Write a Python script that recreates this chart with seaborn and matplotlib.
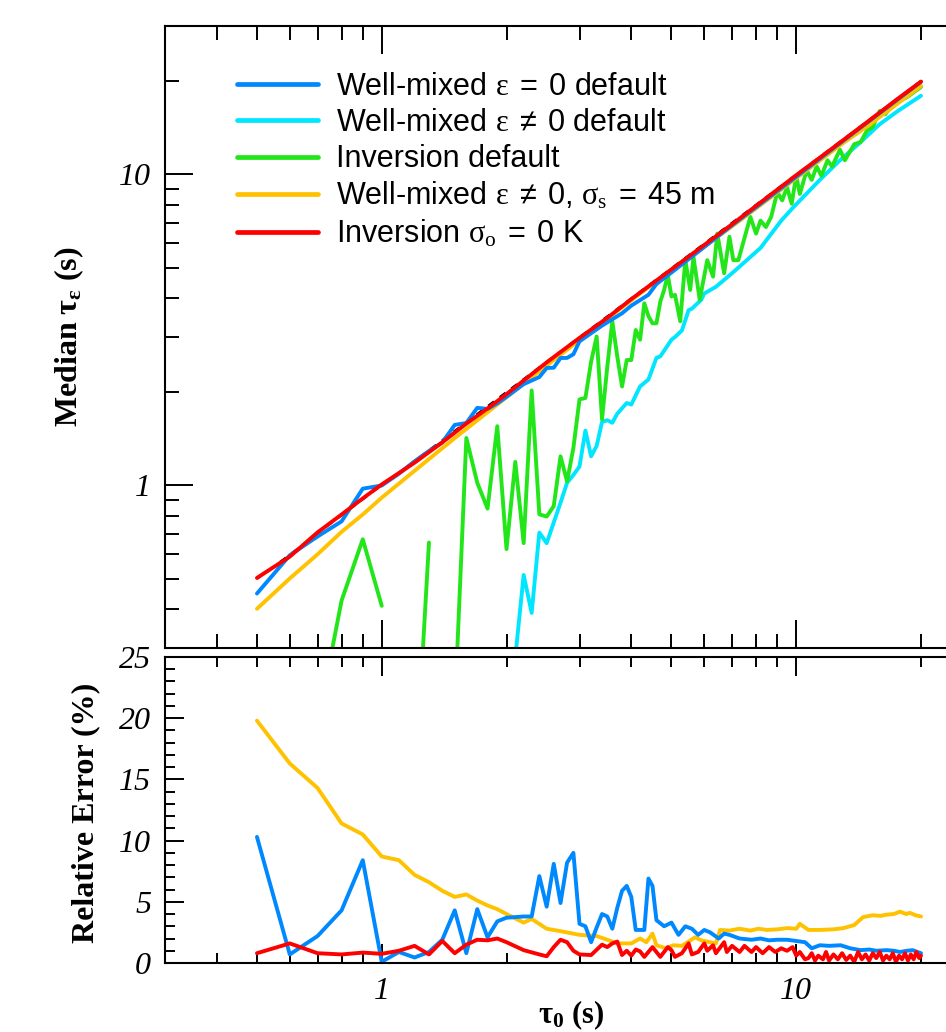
#!/usr/bin/env python3
"""Median tau_eps against tau_0 (log-log) with the relative error panel below."""

import matplotlib

matplotlib.use("Agg")
import matplotlib.pyplot as plt
import numpy as np
import pandas as pd
import seaborn as sns
from matplotlib.lines import Line2D
from matplotlib.ticker import FuncFormatter, LogLocator, MultipleLocator, NullFormatter

BLUE = "#0088FF"
CYAN = "#00E6FF"
GREEN = "#22E61A"
YELLOW = "#FFC200"
RED = "#FF0000"

LABELS = [
    r"Well-mixed $\varepsilon\;=\;0$ default",
    r"Well-mixed $\varepsilon\;\neq\;0$ default",
    "Inversion default",
    r"Well-mixed $\varepsilon\;\neq\;0$, $\sigma_{s}\;=\;45$ m",
    r"Inversion $\sigma_{o}\;=\;0$ K",
]

# ---- top panel: median tau_eps (s) ----
ONE_TO_ONE = [0.5, 20.0]

RED_TOP_X = [0.5, 0.6, 0.7, 0.8, 0.9, 1.0, 1.2, 1.4, 1.6, 1.8, 2.0, 2.5, 3.0, 3.5,
             4.0, 5.0, 6.0, 7.0, 8.0, 10.0, 12.0, 15.0, 17.5, 20.0]
RED_TOP_Y = [0.504, 0.59, 0.706, 0.806, 0.908, 1.007, 1.183, 1.375, 1.58, 1.767,
             1.966, 2.486, 2.98, 3.455, 3.97, 4.95, 5.93, 6.91, 7.92, 9.94, 11.91,
             14.9, 17.43, 19.88]

BLUE_TOP_X = [0.5, 0.6, 0.7, 0.8, 0.9, 1.0, 1.1, 1.2, 1.3, 1.4, 1.5, 1.6, 1.7, 1.8,
              1.9, 2.0, 2.2, 2.4, 2.5, 2.6, 2.7, 2.8, 2.9, 3.0, 3.4, 3.8, 4.0, 4.4,
              4.6, 5.0, 6.0, 7.0, 8.0, 10.0, 12.0, 15.0, 20.0]
BLUE_TOP_Y = [0.449, 0.596, 0.685, 0.766, 0.976, 0.999, 1.09, 1.195, 1.29, 1.374,
              1.565, 1.587, 1.775, 1.762, 1.835, 1.926, 2.116, 2.23, 2.385, 2.39,
              2.568, 2.57, 2.64, 2.905, 3.264, 3.576, 3.784, 4.10, 4.44, 4.835,
              5.84, 6.86, 7.84, 9.82, 11.83, 14.84, 19.84]

YELLOW_TOP_X = [0.5, 0.6, 0.7, 0.8, 0.9, 1.0, 1.2, 1.5, 2.0, 2.5, 3.0, 4.0, 5.0,
                7.0, 10.0, 13.0, 15.0, 20.0]
YELLOW_TOP_Y = [0.401, 0.502, 0.600, 0.709, 0.806, 0.913, 1.114, 1.419, 1.920,
                2.430, 2.931, 3.936, 4.930, 6.804, 9.72, 12.63, 14.42, 19.25]

CYAN_TOP_X = [2.1, 2.2, 2.3, 2.4, 2.5, 2.6, 2.7, 2.8, 2.9, 3.0, 3.1, 3.2, 3.3, 3.4,
              3.5, 3.6, 3.7, 3.8, 3.9, 4.0, 4.2, 4.4, 4.6, 4.7, 5.0, 5.1, 5.3, 5.5,
              5.6, 5.9, 6.0, 6.4, 7.0, 7.6, 8.2, 9.2, 9.85, 10.6, 11.4, 12.75, 14.3,
              15.9, 17.6, 20.0]
CYAN_TOP_Y = [0.28, 0.515, 0.389, 0.705, 0.652, 0.76, 0.88, 1.02, 1.08, 1.15, 1.50,
              1.24, 1.34, 1.60, 1.62, 1.59, 1.70, 1.77, 1.84, 1.82, 2.08, 2.19, 2.57,
              2.6, 2.94, 3.0, 3.15, 3.66, 3.7, 3.95, 4.14, 4.35, 4.81, 5.3, 5.8, 7.1,
              7.85, 8.68, 9.6, 11.1, 12.7, 14.5, 16.0, 17.9]

# NaN = no median (line broken)
GREEN_TOP_X = [0.7, 0.8, 0.9, 1.0, 1.1, 1.2, 1.3, 1.4, 1.5, 1.6, 1.7, 1.8, 1.9, 2.0,
               2.1, 2.2, 2.3, 2.4, 2.5, 2.6, 2.7, 2.8, 2.9, 3.0, 3.1, 3.2, 3.3, 3.4,
               3.5, 3.6, 3.7, 3.8, 3.9, 4.0, 4.1, 4.2, 4.3, 4.4, 4.5, 4.6, 4.7, 4.8,
               4.9, 5.0, 5.1, 5.25, 5.4, 5.55, 5.65, 5.85, 6.1, 6.3, 6.45, 6.7, 6.9,
               7.05, 7.25, 7.75, 8.0, 8.2, 8.45, 8.7, 9.0, 9.25, 9.5, 9.75, 10.0,
               10.2, 10.6, 10.9, 11.2, 11.5, 11.9, 12.2, 12.75, 13.1, 13.8, 14.3,
               14.8, 15.3, 15.9, 16.4, 17.1, 18.5, 20.0]
GREEN_TOP_Y = [0.17, 0.426, 0.671, 0.41, np.nan, 0.1, 0.655, np.nan, 0.19, 1.42,
               1.02, 0.842, 1.55, 0.624, 1.19, 0.652, 2.02, 0.807, 0.794, 0.858,
               1.24, 1.03, 1.32, 1.89, 1.91, 2.5, 3.01, 1.63, 2.4, 3.37, 2.6, 2.08,
               2.53, 2.53, 3.16, 2.94, 3.85, 3.5, 3.32, 3.32, 3.9, 4.25, 4.75, 4.05,
               4.1, 3.37, 5.3, 4.25, 5.43, 3.95, 5.3, 4.69, 6.45, 4.81, 6.3, 5.3,
               5.3, 7.3, 6.45, 7.1, 6.77, 7.3, 8.77, 8.25, 9.1, 8.05, 9.9, 8.65,
               10.3, 9.6, 10.6, 9.9, 11.1, 10.6, 12.0, 11.1, 12.5, 12.7, 13.8, 14.2,
               16.0, 15.6, 16.8, 17.7, 19.1]

# ---- bottom panel: relative error (%) ----
BLUE_ERR_X = [0.5, 0.6, 0.7, 0.8, 0.9, 1.0, 1.1, 1.2, 1.3, 1.4, 1.5, 1.6, 1.7, 1.8,
              1.9, 2.0, 2.1, 2.2, 2.3, 2.4, 2.5, 2.6, 2.7, 2.8, 2.9, 3.0, 3.1, 3.2,
              3.3, 3.4, 3.5, 3.6, 3.7, 3.8, 3.9, 4.0, 4.1, 4.2, 4.3, 4.4, 4.5, 4.6,
              4.8, 5.0, 5.2, 5.4, 5.6, 5.8, 6.0, 6.2, 6.5, 6.7, 6.9, 7.3, 7.8, 8.2,
              8.6, 9.0, 9.5, 10.0, 10.5, 10.9, 11.4, 12.0, 12.8, 13.5, 14.3, 15.0,
              15.6, 16.5, 17.2, 17.8, 18.5, 19.1, 19.6, 20.0]
BLUE_ERR_Y = [10.3, 0.7, 2.2, 4.3, 8.4, 0.1, 0.9, 0.45, 0.9, 1.9, 4.3, 0.8, 4.4,
              2.1, 3.4, 3.7, 3.75, 3.8, 3.8, 7.1, 4.6, 8.1, 4.9, 8.2, 9.0, 3.2, 3.0,
              1.7, 2.9, 4.0, 3.8, 2.8, 4.5, 5.9, 6.3, 5.4, 2.7, 2.7, 2.7, 6.9, 6.3,
              3.5, 3.0, 3.3, 2.3, 3.0, 2.8, 2.3, 2.7, 2.5, 2.0, 2.4, 2.3, 2.0, 1.9,
              2.0, 1.85, 1.9, 1.9, 1.8, 1.7, 1.2, 1.45, 1.4, 1.45, 1.2, 1.05, 1.1,
              1.0, 1.05, 1.0, 0.9, 1.0, 1.05, 0.9, 0.8]

YELLOW_ERR_X = [0.5, 0.6, 0.7, 0.8, 0.9, 1.0, 1.1, 1.2, 1.3, 1.4, 1.5, 1.6, 1.7,
                1.8, 1.9, 2.0, 2.2, 2.3, 2.5, 2.7, 3.0, 3.3, 3.5, 3.7, 4.0, 4.2,
                4.35, 4.5, 4.6, 4.85, 5.05, 5.3, 5.5, 5.7, 5.9, 6.2, 6.4, 6.55, 6.9,
                7.3, 7.75, 8.1, 8.5, 9.0, 9.5, 10.0, 10.2, 10.7, 11.4, 12.3, 13.0,
                13.8, 14.5, 15.3, 16.0, 16.5, 17.2, 17.8, 18.4, 18.8, 19.4, 20.0]
YELLOW_ERR_Y = [19.8, 16.3, 14.3, 11.4, 10.5, 8.7, 8.4, 7.2, 6.6, 5.9, 5.4, 5.6,
                5.1, 4.7, 4.4, 4.0, 3.3, 3.6, 2.8, 2.6, 2.3, 2.2, 1.9, 1.6, 1.6, 2.0,
                1.7, 2.4, 1.45, 1.2, 1.45, 1.4, 1.75, 2.1, 1.85, 1.7, 1.6, 2.7, 2.65,
                2.8, 2.65, 2.8, 2.7, 2.75, 2.85, 2.8, 3.2, 2.7, 2.7, 2.75, 2.85, 3.1,
                3.75, 3.9, 3.85, 3.95, 4.0, 4.2, 4.0, 4.1, 3.9, 3.8]

RED_ERR_X = [0.5, 0.6, 0.7, 0.8, 0.9, 1.0, 1.1, 1.2, 1.3, 1.4, 1.5, 1.6, 1.7, 1.8,
             1.9, 2.0, 2.2, 2.4, 2.5, 2.6, 2.7, 2.8, 2.9, 3.0, 3.2, 3.4, 3.5, 3.6,
             3.7, 3.8, 3.9, 4.0, 4.1, 4.2, 4.3, 4.5, 4.7, 4.9, 5.0, 5.1, 5.3, 5.5,
             5.6, 5.8, 6.0, 6.1, 6.3, 6.4, 6.7, 6.8, 7.0, 7.3, 7.5, 7.8, 8.0, 8.3,
             8.6, 8.9, 9.2, 9.5, 9.8, 10.0, 10.2, 10.5, 10.7, 10.9, 11.1, 11.3,
             11.6, 11.8, 12.0, 12.3, 12.6, 12.9, 13.2, 13.5, 13.8, 14.1, 14.4,
             14.7, 15.0, 15.3, 15.6, 15.9, 16.2, 16.5, 16.8, 17.1, 17.4, 17.7,
             18.0, 18.3, 18.6, 18.9, 19.2, 19.5, 19.8, 20.0]
RED_ERR_Y = [0.8, 1.6, 0.8, 0.7, 0.85, 0.75, 1.0, 1.4, 0.7, 1.8, 0.8, 1.5, 1.9,
             1.85, 2.0, 1.7, 1.05, 0.7, 0.55, 1.3, 1.9, 1.7, 1.0, 0.7, 0.65, 1.5,
             1.3, 1.6, 1.75, 0.65, 1.0, 0.6, 1.1, 0.95, 0.5, 1.3, 0.5, 1.3, 1.05,
             0.5, 0.8, 1.6, 0.7, 0.9, 1.6, 1.0, 1.45, 0.8, 1.7, 0.9, 1.4, 0.9, 1.4,
             0.9, 1.3, 0.8, 1.3, 0.9, 1.2, 1.0, 1.3, 0.6, 0.9, 0.3, 0.4, 0.8, 0.2,
             0.6, 0.3, 0.9, 0.2, 0.7, 0.3, 0.8, 0.25, 0.6, 0.1, 0.9, 0.3, 0.7, 0.2,
             0.8, 0.4, 0.9, 0.2, 0.6, 0.3, 0.8, 0.1, 0.6, 0.3, 0.8, 0.2, 0.7, 0.3,
             0.9, 0.4, 0.6]

W, H = 946, 1032
LW = 2.8


def line(ax, xs, ys, color, **kw):
    kw.setdefault("linewidth", LW)
    sns.lineplot(x=xs, y=ys, estimator=None, sort=False, color=color, ax=ax, **kw)


def log_x(ax):
    ax.set_xscale("log")
    ax.set_xlim(0.3, 30)
    ax.xaxis.set_major_locator(LogLocator(base=10, numticks=10))
    ax.xaxis.set_minor_locator(LogLocator(base=10, subs=np.arange(2, 10), numticks=10))
    ax.xaxis.set_major_formatter(FuncFormatter(lambda v, _: f"{v:g}"))
    ax.xaxis.set_minor_formatter(NullFormatter())


sns.set_style("ticks")
plt.rcParams.update({
    "font.family": ["Liberation Serif", "DejaVu Serif"],
    "mathtext.fontset": "custom",
    "mathtext.rm": "Liberation Sans",
    "mathtext.it": "Liberation Serif",
    "mathtext.bf": "Liberation Serif:bold",
    "text.color": "black",
    "axes.labelcolor": "black",
    "axes.linewidth": 1.5,
    "axes.edgecolor": "black",
    "xtick.direction": "in",
    "ytick.direction": "in",
    "xtick.top": True,
    "ytick.right": True,
    "xtick.color": "black",
    "ytick.color": "black",
})

fig = plt.figure(figsize=(W / 100, H / 100), dpi=100)
left, right = 165 / W, 994 / W
ax_top = fig.add_axes([left, 1 - 648 / H, right - left, (648 - 26) / H])
ax_bot = fig.add_axes([left, 1 - 963 / H, right - left, (963 - 657) / H])

# top panel
line(ax_top, ONE_TO_ONE, ONE_TO_ONE, "black", linestyle=(0, (4, 4)), linewidth=1.3)
line(ax_top, CYAN_TOP_X, CYAN_TOP_Y, CYAN)
green = pd.DataFrame({"x": GREEN_TOP_X, "y": GREEN_TOP_Y})
green["seg"] = green["y"].isna().cumsum()
green = green.dropna()
sns.lineplot(data=green, x="x", y="y", units="seg", estimator=None, sort=False,
             color=GREEN, linewidth=LW, ax=ax_top)
line(ax_top, YELLOW_TOP_X, YELLOW_TOP_Y, YELLOW)
line(ax_top, BLUE_TOP_X, BLUE_TOP_Y, BLUE)
line(ax_top, RED_TOP_X, RED_TOP_Y, RED)

log_x(ax_top)
ax_top.set_yscale("log")
ax_top.set_ylim(0.3, 30)
ax_top.yaxis.set_major_locator(LogLocator(base=10, numticks=10))
ax_top.yaxis.set_minor_locator(LogLocator(base=10, subs=np.arange(2, 10), numticks=10))
ax_top.yaxis.set_major_formatter(FuncFormatter(lambda v, _: f"{v:g}"))
ax_top.yaxis.set_minor_formatter(NullFormatter())
ax_top.tick_params(which="major", length=20, width=1.4, labelsize=23, pad=10,
                   labelbottom=False)
ax_top.tick_params(which="minor", length=10, width=1.4)
ax_top.set_xlabel("")
ax_top.set_ylabel(r"Median $\mathbf{\tau_{\varepsilon}}$ (s)", fontsize=23,
                  fontweight="bold")
ax_top.yaxis.set_label_coords(-0.095, 0.5)

handles = [Line2D([], [], color=c, lw=3.4) for c in (BLUE, CYAN, GREEN, YELLOW, RED)]
ax_top.legend(handles, LABELS, loc="upper left",
              bbox_to_anchor=(237 / W, 1 - 72 / H), bbox_transform=fig.transFigure,
              frameon=False, borderpad=0, borderaxespad=0, handlelength=2.65,
              handletextpad=0.6, labelspacing=0.2,
              prop={"family": "Liberation Sans", "size": 22})

# bottom panel
line(ax_bot, YELLOW_ERR_X, YELLOW_ERR_Y, YELLOW)
line(ax_bot, BLUE_ERR_X, BLUE_ERR_Y, BLUE)
line(ax_bot, RED_ERR_X, RED_ERR_Y, RED)

log_x(ax_bot)
ax_bot.set_ylim(0, 25)
ax_bot.yaxis.set_major_locator(MultipleLocator(5))
ax_bot.yaxis.set_minor_locator(MultipleLocator(1))
ax_bot.tick_params(which="major", length=14, width=1.4, labelsize=23, pad=10)
ax_bot.tick_params(which="minor", length=7, width=1.4)
ax_bot.set_xlabel(r"$\mathbf{\tau_{0}}$ (s)", fontsize=22, fontweight="bold")
ax_bot.xaxis.set_label_coords(0.49, -0.115)
ax_bot.set_ylabel("Relative Error (%)", fontsize=23, fontweight="bold")
ax_bot.yaxis.set_label_coords(-0.078, 0.49)

# italic serif tick labels, as in the original
fig.canvas.draw()
for ax in (ax_top, ax_bot):
    for t in ax.get_xticklabels() + ax.get_yticklabels():
        t.set_fontstyle("italic")

fig.savefig("out.png", dpi=100, facecolor="white")
plt.close(fig)
